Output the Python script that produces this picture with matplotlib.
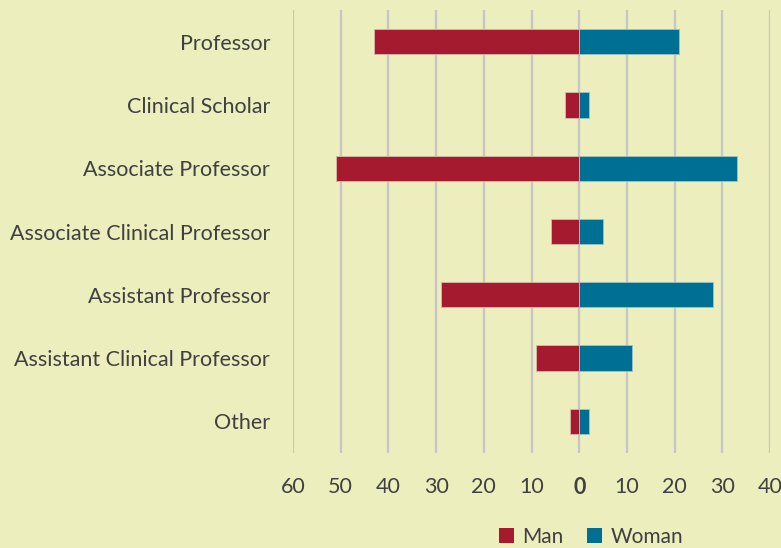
import matplotlib
matplotlib.use("Agg")
from matplotlib import pyplot as plt
from matplotlib.patches import Patch
import numpy as np

categories = ['Professor', 'Clinical Scholar', 'Associate Professor',
              'Associate Clinical Professor', 'Assistant Professor',
              'Assistant Clinical Professor', 'Other']
man = [43, 3, 51, 6, 29, 9, 2]
woman = [21, 2, 33, 5, 28, 11, 2]
ticks = [-60, -50, -40, -30, -20, -10, 0, 10, 20, 30, 40]
tick_labels = ['60', '50', '40', '30', '20', '10', '0', '10', '20', '30', '40']

bg = '#ECEEBD'
red = '#A51A2F'
blue = '#006F94'
txt = '#404040'

plt.rcParams['font.family'] = ['Lato', 'DejaVu Sans']

fig = plt.figure(figsize=(7.81, 5.48), dpi=100, facecolor=bg)
ax = fig.add_axes([293/781, 1-453/548, (770-293)/781, (453-10)/548])
ax.set_facecolor(bg)

y = np.arange(len(categories))
ax.barh(y, -np.array(man), height=0.4, color=red, edgecolor='#D9B9A8', linewidth=0.6, zorder=3)
ax.barh(y, woman, height=0.4, color=blue, edgecolor='#9CC4C4', linewidth=0.6, zorder=3)

ax.set_xlim(-60, 40)
ax.set_ylim(len(categories)-0.5, -0.5)
ax.set_yticks(y)
ax.set_yticklabels(categories, fontsize=15.5, color=txt)
ax.set_xticks(ticks)
ax.set_xticklabels(tick_labels, fontsize=15.5, color=txt)
for lab in ax.get_xticklabels():
    if lab.get_text() == '0':
        lab.set_fontweight('bold')
ax.tick_params(axis='both', length=0)
ax.tick_params(axis='x', pad=17)
ax.tick_params(axis='y', pad=16.5)
ax.grid(axis='x', color='#C6C6C6', linewidth=1.6, zorder=0)
for s in ax.spines.values():
    s.set_visible(False)

handles = [Patch(facecolor=red, label='Man'), Patch(facecolor=blue, label='Woman')]
fig.legend(handles=handles, loc='center', bbox_to_anchor=(591/781, 1-537/548),
           ncol=2, frameon=False, fontsize=15, labelcolor=txt,
           handlelength=0.75, handleheight=0.75, handletextpad=0.4, columnspacing=1.1,
           borderpad=0.2)

fig.savefig('out.png', dpi=100, facecolor=bg)
